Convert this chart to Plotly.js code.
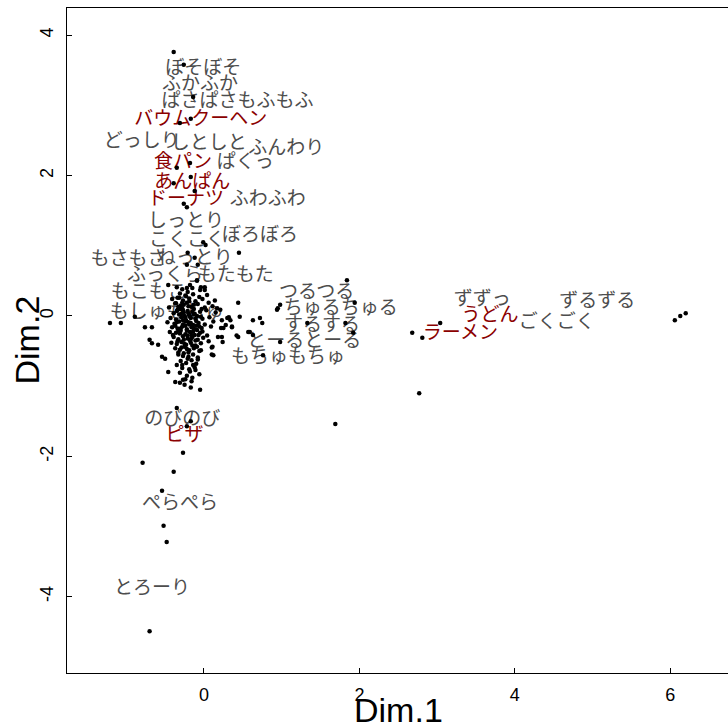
<!DOCTYPE html>
<html>
<head>
<meta charset="utf-8">
<script src="https://cdn.plot.ly/plotly-3.0.1.min.js"></script>
<style>
html, body { margin: 0; padding: 0; overflow: hidden; background: #fff; }
#chart { width: 732px; height: 723px; }
</style>
</head>
<body>
<div id="chart"></div>
<script>
// Onomatopoeia (column) labels, gray
var wordLabels = ["ぼそぼそ","ふかふか","ぱさぱさもふもふ","どっしり","しとしと","ふんわり","ぱくっ","ふわふわ",
  "しっとり","こくこく","ぼろぼろ","もさもさ","ねっとり","ふっくら","もたもた","もこもこ","もしゅもしゅ",
  "つるつる","ちゅるちゅる","するする","とーるとーる","もちゅもちゅ","ずずっ","ずるずる","ごくごく",
  "のびのび","ぺらぺら","とろーり"];
var wordX = [-0.01, -0.05, 0.43, -0.80, 0.06, 1.06, 0.53, 0.82,
  -0.23, -0.22, 0.72, -0.97, -0.12, -0.50, 0.41, -0.71, -0.48,
  1.45, 1.76, 1.52, 1.29, 1.08, 3.58, 5.06, 4.54,
  -0.28, -0.31, -0.67];
var wordY = [3.52, 3.28, 3.05, 2.48, 2.44, 2.38, 2.17, 1.65,
  1.34, 1.07, 1.14, 0.80, 0.81, 0.56, 0.56, 0.33, 0.04,
  0.33, 0.09, -0.14, -0.37, -0.60, 0.23, 0.19, -0.10,
  -1.48, -2.68, -3.89];

// Food labels, dark red
var foodLabels = ["バウムクーヘン","食パン","あんぱん","ドーナツ","うどん","ラーメン","ピザ"];
var foodX = [-0.04, -0.27, -0.15, -0.23, 3.68, 3.30, -0.25];
var foodY = [2.79, 2.18, 1.89, 1.65, -0.01, -0.26, -1.72];

// Individual points (black dots)
var dotX = [
  -0.39,-0.26,-0.14,-0.17,-0.31,-0.35,-0.18,-0.39,-0.17,-0.12,-0.26,-0.22,-0.01,0.02,0.45,-0.21,-0.12,-0.08,-0.22,
  -0.09,-0.04,0.01,-0.18,0.44,0.95,0.98,-1.21,-1.07,-0.89,-0.76,-0.67,-0.70,-0.67,-0.59,-0.54,-0.50,-0.46,-0.35,
  -0.31,-0.37,-0.31,-0.27,-0.05,0.12,0.17,0.21,0.30,0.34,0.25,0.36,0.46,0.44,0.63,0.72,0.75,0.57,0.63,0.76,0.98,
  1.84,1.94,0.94,1.33,1.82,1.92,2.68,2.81,3.04,2.77,6.06,6.13,6.20,1.69,-0.35,-0.17,-0.22,-0.27,-0.79,-0.39,-0.54,
  -0.52,-0.48,-0.70,
  -0.31,-0.24,-0.14,-0.06,0.04,-0.41,-0.34,-0.27,-0.19,-0.11,-0.02,0.06,-0.37,-0.30,-0.22,-0.16,-0.08,0.01,
  -0.45,-0.34,-0.28,-0.21,-0.13,-0.05,0.03,0.11,-0.39,-0.32,-0.26,-0.19,-0.12,-0.04,
  -0.43,-0.36,-0.29,-0.23,-0.17,-0.10,-0.02,0.07,-0.47,-0.38,-0.32,-0.27,-0.20,-0.14,-0.07,0.01,
  -0.41,-0.34,-0.28,-0.22,-0.16,-0.09,-0.03,0.09,-0.44,-0.36,-0.30,-0.24,-0.18,-0.12,-0.05,0.04,
  -0.39,-0.33,-0.27,-0.21,-0.15,-0.08,-0.01,-0.42,-0.35,-0.29,-0.23,-0.17,-0.11,-0.04,0.06,
  -0.37,-0.31,-0.25,-0.19,-0.13,-0.06,-0.33,-0.26,-0.20,-0.14,-0.08,-0.30,-0.23,-0.16,-0.10,
  -0.28,-0.19,-0.12,-0.22,-0.15,-0.06,-0.25,-0.17,
  -0.33,-0.25,-0.18,-0.11,-0.24,-0.31,-0.26,-0.19,-0.13,-0.35,-0.28,-0.20,-0.15,-0.09,-0.22,-0.16,-0.29,-0.11,
  -0.06,-0.37,-0.03,-0.23,0.15,0.12,0.18,0.10,0.14,
  -0.46,-0.35,-0.28,-0.22,-0.15,-0.05,-0.09,0.01,
  0.23,0.32,0.28,0.36,0.22,0.23,0.24,0.42,0.59,0.11,0.10,
  -0.27,-0.20,-0.13,-0.24,-0.17,-0.30,-0.21,-0.14,-0.07,-0.26,-0.19,-0.33,-0.25,-0.18,-0.10,-0.29,-0.22,-0.15,
  -0.34,-0.27,-0.20,-0.13,-0.24,-0.17,-0.31,-0.09,-0.36,-0.02,-0.40,-0.32,-0.21,-0.14,-0.27,-0.18,-0.08,-0.24,
  -0.33,-0.16,-0.11,-0.28,-0.21,-0.35,-0.04
];
var dotY = [
  3.76,3.58,3.12,2.81,2.75,2.11,2.18,1.89,1.98,1.78,1.60,1.55,1.05,1.01,0.90,0.90,0.83,0.73,0.73,
  0.51,0.41,0.41,0.44,0.19,0.11,0.16,-0.10,-0.10,-0.01,-0.16,-0.16,-0.34,-0.39,-0.41,-0.58,-0.61,-0.80,-0.70,
  -0.81,-0.94,-0.95,-0.91,-1.05,-0.56,0.11,0.09,-0.03,-0.06,-0.17,-0.16,-0.01,-0.30,-0.06,-0.03,-0.10,-0.23,-0.27,-0.56,-0.37,
  0.51,0.19,0.09,-0.10,-0.10,-0.24,-0.24,-0.31,-0.10,-1.10,-0.06,0.00,0.04,-1.54,-1.31,-1.50,-1.57,-1.95,-2.09,-2.22,-2.49,
  -2.99,-3.22,-4.49,
  0.32,0.29,0.31,0.27,0.30,0.24,0.26,0.22,0.25,0.21,0.24,0.19,0.18,0.15,0.19,0.13,0.17,0.12,
  0.12,0.09,0.11,0.07,0.10,0.06,0.08,0.14,0.04,0.02,0.05,0.01,0.03,-0.01,
  -0.03,-0.05,-0.02,-0.06,-0.03,-0.07,-0.04,-0.02,-0.09,-0.11,-0.08,-0.12,-0.09,-0.13,-0.10,-0.12,
  -0.16,-0.18,-0.15,-0.19,-0.16,-0.20,-0.17,-0.15,-0.23,-0.24,-0.21,-0.26,-0.23,-0.27,-0.24,-0.28,
  -0.30,-0.33,-0.29,-0.32,-0.30,-0.34,-0.31,-0.38,-0.40,-0.37,-0.41,-0.38,-0.42,-0.39,-0.36,
  -0.46,-0.48,-0.44,-0.49,-0.46,-0.50,-0.55,-0.53,-0.58,-0.55,-0.59,-0.64,-0.67,-0.63,-0.68,
  -0.74,-0.76,-0.73,-0.85,-0.88,-0.83,-0.98,-1.02,
  0.13,0.00,-0.01,-0.04,-0.08,-0.25,-0.34,-0.12,-0.18,0.07,0.19,0.14,0.06,0.00,-0.21,-0.27,-0.45,-0.35,
  -0.15,-0.14,0.10,0.28,0.05,-0.08,-0.30,-0.45,0.22,
  0.44,0.41,0.38,0.40,0.40,0.37,0.50,0.37,
  -0.06,-0.02,-0.13,-0.15,-0.17,-0.30,-0.37,-0.28,-0.23,-0.44,-0.55,
  0.08,0.04,0.16,-0.14,-0.10,-0.18,-0.28,-0.22,-0.27,0.16,0.21,-0.20,-0.40,-0.35,-0.14,0.03,-0.47,-0.42,
  -0.36,-0.06,-0.52,0.02,-0.02,-0.33,0.10,-0.44,0.18,-0.22,-0.27,0.26,-0.61,-0.70,-0.57,-0.79,-0.62,-0.90,
  -0.52,-0.93,-0.77,-0.70,0.34,-0.09,-0.49
];

var xTicks = [0, 2, 4, 6];
var yTicks = [-4, -2, 0, 2, 4];

var jpFont = "Noto Sans CJK JP, Noto Sans, sans-serif";
var axFont = "Liberation Sans Narrow, Liberation Sans, Arial, sans-serif";

var traces = [
  {
    type: "scatter", mode: "text",
    x: wordX, y: wordY, text: wordLabels,
    textposition: "middle center",
    textfont: { family: jpFont, size: 19, color: "#4d4d4d" },
    hoverinfo: "none", cliponaxis: false
  },
  {
    type: "scatter", mode: "text",
    x: foodX, y: foodY, text: foodLabels,
    textposition: "middle center",
    textfont: { family: jpFont, size: 19, color: "#8b0000" },
    hoverinfo: "none", cliponaxis: false
  },
  {
    type: "scatter", mode: "markers",
    x: dotX, y: dotY,
    marker: { color: "#000000", size: 4.5, line: { width: 0 } },
    hoverinfo: "none", cliponaxis: false
  }
];

var axisCommon = {
  showgrid: false, zeroline: false,
  showline: true, linecolor: "#000", linewidth: 1, mirror: true,
  ticks: "inside", ticklen: 5, tickcolor: "#000", tickwidth: 1,
  tickfont: { family: axFont, size: 18, color: "#000" }
};

var layout = {
  width: 732, height: 723,
  margin: { l: 67, r: 3, t: 8, b: 50 },
  paper_bgcolor: "#fff", plot_bgcolor: "#fff",
  showlegend: false,
  xaxis: Object.assign({}, axisCommon, {
    range: [-1.763, 6.757], tickvals: xTicks, ticktext: xTicks.map(String),
    ticklabelstandoff: 5
  }),
  yaxis: Object.assign({}, axisCommon, {
    range: [-5.086, 4.387], tickvals: yTicks, ticktext: yTicks.map(String),
    tickangle: -90, ticklabelstandoff: 6
  }),
  annotations: [
    { text: "Dim.1", xref: "paper", yref: "paper", x: 0.5, y: 0, xanchor: "center", yanchor: "top",
      yshift: -16, showarrow: false, font: { family: axFont, size: 34, color: "#000" } },
    { text: "Dim.2", xref: "paper", yref: "paper", x: 0, y: 0.5, xanchor: "center", yanchor: "middle",
      xshift: -41, textangle: -90, showarrow: false, font: { family: axFont, size: 34, color: "#000" } }
  ]
};

Plotly.newPlot("chart", traces, layout, { displayModeBar: false, staticPlot: true });
</script>
</body>
</html>
